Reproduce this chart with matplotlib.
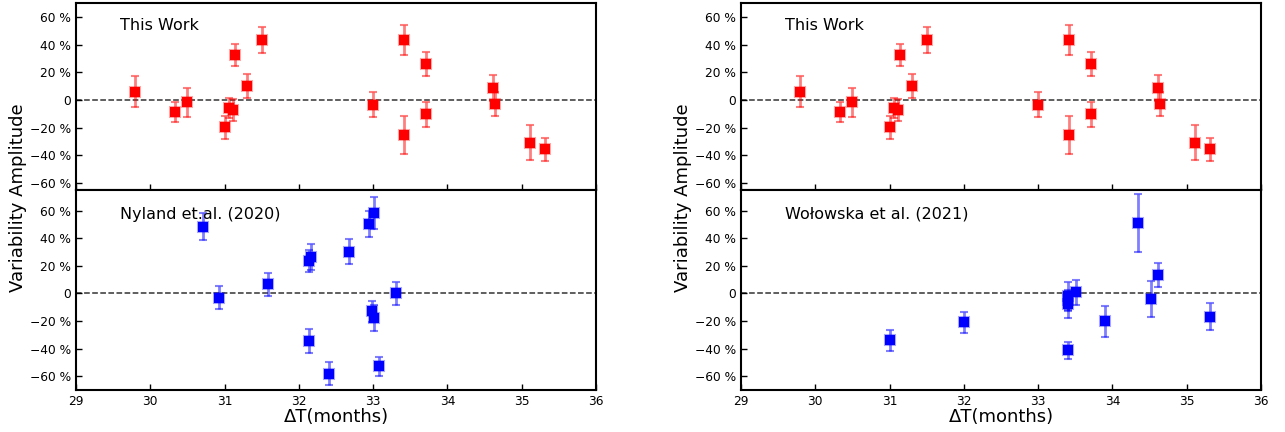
import numpy as np
import matplotlib.pyplot as plt
from matplotlib.ticker import FuncFormatter

# This Work (same in both top panels)
tw_dt = [29.80, 30.33, 30.50, 31.00, 31.06, 31.11, 31.14, 31.30, 31.50,
         33.00, 33.41, 33.41, 33.71, 33.71, 34.61, 34.64, 35.11, 35.31]
tw_amp = [6, -8.4, -1.7, -19.8, -6, -7, 32.3, 9.9, 43.1,
          -3.4, 43.1, -25.5, 25.8, -10.4, 8.9, -2.9, -30.8, -35.7]
tw_err = [11, 7.2, 10.6, 8.2, 7.2, 8, 7.8, 8.5, 9.3,
          9.2, 11, 13.6, 8.8, 9, 9.3, 8.8, 12.5, 8.3]

# Nyland et al. (2020)
ny_dt = [30.71, 30.93, 31.58, 32.14, 32.17, 32.14, 32.40, 32.68, 32.94,
         33.01, 32.98, 33.01, 33.08, 33.31]
ny_amp = [48.4, -3.1, 6.5, 23.4, 26.7, -34.2, -58.1, 30.4, 50.4,
          58.3, -13, -18.1, -52.8, 0]
ny_err = [9.8, 8.3, 8.6, 8.2, 9.4, 8.7, 8.3, 8.9, 9.6,
          11.3, 7.5, 9.4, 6.9, 8.1]

# Wołowska et al. (2021)
wo_dt = [31.00, 32.00, 33.40, 33.40, 33.40, 33.40, 33.51, 33.90, 34.34,
         34.52, 34.61, 35.31]
wo_amp = [-34, -21, -2, -5, -8, -41.2, 0.7, -20.2, 51.1,
          -4.3, 13.5, -16.9]
wo_err = [7.7, 7.8, 10, 7.5, 9.5, 6, 9, 11.3, 20.8,
          13, 8.8, 9.7]


def pct(v, pos):
    if abs(v) < 1e-9:
        return '0'
    return f'{v:.0f} %'.replace('-', '\u2212')


def draw(ax, x, y, e, color, label, ylim):
    ecol = (1, 0, 0, 0.5) if color == 'red' else (0, 0, 1, 0.5)
    medge = (1, 0, 0, 0.35) if color == 'red' else (0, 0, 1, 0.35)
    line, caps, bars = ax.errorbar(x, y, yerr=e, fmt='s', color=color, ms=7,
                                   mec=medge, mew=1.5, ecolor=ecol,
                                   elinewidth=2, capsize=3, capthick=1.2, zorder=3)
    for c in caps:
        c.set_color(color)
    ax.axhline(0, color='k', ls='--', lw=1.1, alpha=0.8, zorder=2)
    ax.set_xlim(29, 36)
    ax.set_ylim(*ylim)
    ax.set_yticks(np.arange(-60, 61, 20))
    ax.set_xticks(np.arange(29, 37, 1))
    ax.yaxis.set_major_formatter(FuncFormatter(pct))
    ax.tick_params(direction='in', length=4, width=1, labelsize=8.8)
    for s in ax.spines.values():
        s.set_linewidth(1.5)
    ax.text(0.085, 0.88, label, transform=ax.transAxes, fontsize=11.5, va='center')


fig = plt.figure(figsize=(12.85, 4.32), dpi=100)
W, H = 1285, 432
lefts = [76, 741]
width = 520
top, mid, bot = 3, 190, 390

for i, (left, (bx, by, be, blabel)) in enumerate(zip(
        lefts, [(ny_dt, ny_amp, ny_err, 'Nyland et.al. (2020)'),
                (wo_dt, wo_amp, wo_err, 'Wołowska et al. (2021)')])):
    ax_top = fig.add_axes([left / W, 1 - mid / H, width / W, (mid - top) / H])
    ax_bot = fig.add_axes([left / W, 1 - bot / H, width / W, (bot - mid) / H])
    draw(ax_top, tw_dt, tw_amp, tw_err, 'red', 'This Work', (-65, 70))
    draw(ax_bot, bx, by, be, 'blue', blabel, (-70, 75))
    ax_top.tick_params(labelbottom=False)
    ax_bot.set_xlabel('ΔT(months)', fontsize=13, labelpad=0)
    fig.text((left - 58) / W, 1 - 198 / H, 'Variability Amplitude', rotation=90,
             fontsize=13, ha='center', va='center')

plt.savefig('out.png')
